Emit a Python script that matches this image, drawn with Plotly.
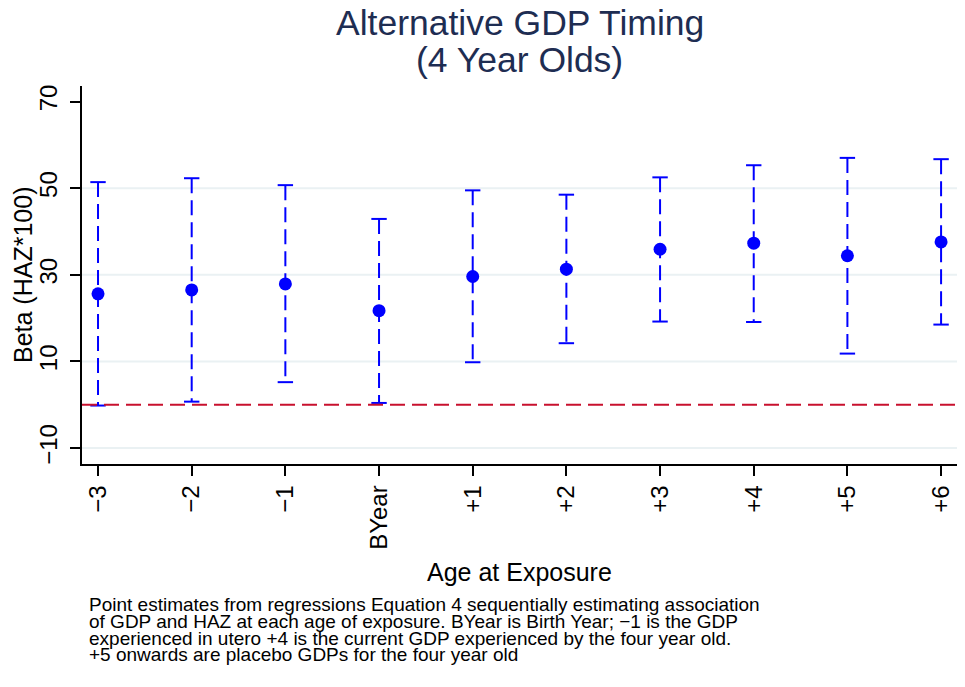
import plotly.graph_objects as go

categories = ["\u22123", "\u22122", "\u22121", "BYear", "+1", "+2", "+3", "+4", "+5", "+6"]
beta = [25.6, 26.5, 27.9, 21.7, 29.6, 31.3, 35.9, 37.3, 34.4, 37.6]
ci_low = [-0.2, 0.7, 5.2, 0.4, 9.8, 14.2, 19.2, 19.1, 11.8, 18.5]
ci_high = [51.4, 52.3, 50.7, 42.9, 49.5, 48.5, 52.5, 55.3, 57.0, 56.7]
ytick_vals = [-10, 10, 30, 50, 70]
grid_vals = [-10, 10, 30, 50]
ref_value = 0

title_lines = ["Alternative GDP Timing", "(4 Year Olds)"]
x_title = "Age at Exposure"
y_title = "Beta (HAZ*100)"
note_lines = [
    "Point estimates from regressions Equation 4 sequentially estimating association",
    "of GDP and HAZ at each age of exposure. BYear is Birth Year; \u22121 is the GDP",
    "experienced in utero +4 is the current GDP experienced by the four year old.",
    "+5 onwards are placebo GDPs for the four year old",
]

W, H = 965, 687
L, R, T, B = 82, 8, 86, 223
plot_h = H - T - B
plot_w = W - L - R

def py(p):
    return (H - B - p) / plot_h

def px(p):
    return (p - L) / plot_w

FONT = "Liberation Sans, Arial, sans-serif"
BLUE = "#0000ff"

xs = list(range(len(categories)))

fig = go.Figure()

# error bar stems (dashed)
sx, sy = [], []
for i, lo, hi in zip(xs, ci_low, ci_high):
    sx += [i, i, None]
    sy += [hi, lo, None]
fig.add_trace(go.Scatter(x=sx, y=sy, mode="lines",
                         line=dict(color=BLUE, width=2, dash="15px,7px"),
                         hoverinfo="skip", showlegend=False))
# caps
fig.add_trace(go.Scatter(x=xs + xs, y=ci_low + ci_high, mode="markers",
                         marker=dict(symbol="line-ew", size=11,
                                     line=dict(color=BLUE, width=2)),
                         hoverinfo="skip", showlegend=False))
# point estimates
fig.add_trace(go.Scatter(x=xs, y=beta, mode="markers",
                         marker=dict(symbol="circle", size=13, color=BLUE),
                         showlegend=False))

shapes = []
for g in grid_vals:
    shapes.append(dict(type="line", xref="paper", yref="y", x0=0, x1=1, y0=g, y1=g,
                       line=dict(color="#eaf1f3", width=2), layer="below"))
shapes.append(dict(type="line", xref="paper", yref="y", x0=0, x1=1,
                   y0=ref_value, y1=ref_value,
                   line=dict(color="#c8102e", width=2, dash="15px,7px"), layer="above"))

annotations = []
for txt, ymid in zip(title_lines, [23, 60]):
    annotations.append(dict(text=txt, xref="paper", yref="paper", x=0.5, y=py(ymid),
                            xanchor="center", yanchor="middle", showarrow=False,
                            font=dict(family=FONT, size=35.5, color="#1e2d52")))
annotations.append(dict(text=x_title, xref="paper", yref="paper", x=0.5, y=py(572),
                        xanchor="center", yanchor="middle", showarrow=False,
                        font=dict(family=FONT, size=25, color="#000000")))
annotations.append(dict(text=y_title, xref="paper", yref="paper", x=px(23), y=py(275),
                        xanchor="center", yanchor="middle", showarrow=False, textangle=-90,
                        font=dict(family=FONT, size=25, color="#000000")))
for k, line in enumerate(note_lines):
    annotations.append(dict(text=line, xref="paper", yref="paper", x=px(87),
                            y=py(604.5 + 16.8 * k),
                            xanchor="left", yanchor="middle", showarrow=False,
                            font=dict(family=FONT, size=19, color="#000000")))

fig.update_layout(
    width=W, height=H,
    margin=dict(l=L, r=R, t=T, b=B),
    paper_bgcolor="white", plot_bgcolor="white",
    font=dict(family=FONT, color="#000000"),
    shapes=shapes, annotations=annotations,
    xaxis=dict(range=[-0.171, 9.17], tickvals=xs, ticktext=categories,
               tickangle=-90, ticks="outside", ticklen=10, tickwidth=1.5,
               tickcolor="#000000", showline=True, linecolor="#000000", linewidth=1.5,
               showgrid=False, zeroline=False, tickfont=dict(size=24, family=FONT)),
    yaxis=dict(range=[-13.7, 73.6], tickvals=ytick_vals,
               tickangle=-90, ticks="outside", ticklen=10, tickwidth=1.5,
               tickcolor="#000000", showline=True, linecolor="#000000", linewidth=1.5,
               showgrid=False, zeroline=False, tickfont=dict(size=24, family=FONT),
               ticklabelstandoff=4),
)

fig.write_html("out.html")
